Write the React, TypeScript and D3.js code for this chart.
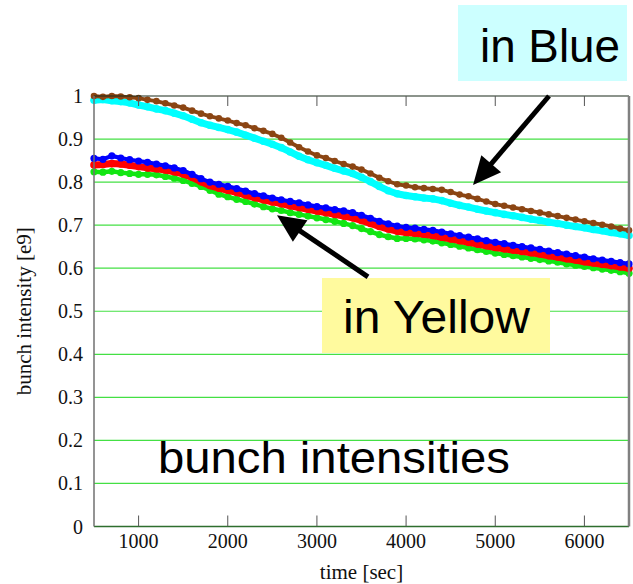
import React from 'react';
import * as d3 from 'd3';

// sample times [sec]
const times: number[] = d3.range(500, 6501, 100);

const brown = [1.000,0.998,1.000,0.999,0.997,0.995,0.991,0.988,0.983,0.978,0.973,0.966,0.959,0.953,0.948,0.943,0.937,0.932,0.925,0.919,0.912,0.903,0.892,0.881,0.871,0.862,0.856,0.849,0.842,0.836,0.829,0.820,0.810,0.802,0.795,0.792,0.788,0.786,0.784,0.782,0.777,0.771,0.767,0.761,0.755,0.749,0.745,0.741,0.737,0.733,0.729,0.725,0.721,0.717,0.713,0.709,0.705,0.701,0.697,0.692,0.688];
const cyan = [0.990,0.992,0.989,0.987,0.984,0.979,0.975,0.970,0.966,0.960,0.954,0.946,0.938,0.932,0.927,0.922,0.916,0.909,0.902,0.895,0.888,0.880,0.870,0.860,0.852,0.845,0.839,0.832,0.826,0.820,0.811,0.801,0.790,0.780,0.773,0.769,0.766,0.763,0.761,0.757,0.751,0.746,0.742,0.737,0.733,0.729,0.725,0.722,0.718,0.714,0.711,0.707,0.704,0.700,0.697,0.694,0.690,0.687,0.683,0.680,0.676];
const magenta = [0.993,0.995,0.992,0.990,0.987,0.982,0.978,0.973,0.969,0.963,0.957,0.949,0.941,0.935,0.930,0.925,0.919,0.912,0.905,0.898,0.891,0.883,0.873,0.863,0.855,0.848,0.842,0.835,0.829,0.823,0.814,0.804,0.793,0.783,0.776,0.773,0.770,0.767,0.765,0.761,0.755,0.750,0.746,0.741,0.737,0.733,0.729,0.726,0.722,0.718,0.715,0.711,0.708,0.704,0.701,0.698,0.694,0.691,0.687,0.684,0.680];
const blue = [0.855,0.853,0.861,0.856,0.852,0.849,0.846,0.842,0.838,0.833,0.827,0.818,0.808,0.800,0.795,0.790,0.785,0.779,0.773,0.768,0.763,0.759,0.755,0.752,0.747,0.743,0.740,0.736,0.733,0.729,0.723,0.716,0.709,0.703,0.698,0.695,0.693,0.690,0.688,0.684,0.680,0.676,0.672,0.668,0.664,0.660,0.657,0.653,0.650,0.647,0.644,0.640,0.636,0.633,0.629,0.626,0.622,0.619,0.616,0.613,0.610];
const red = [0.840,0.841,0.843,0.842,0.839,0.836,0.833,0.831,0.828,0.824,0.819,0.811,0.801,0.792,0.786,0.781,0.776,0.770,0.764,0.759,0.754,0.750,0.745,0.741,0.737,0.733,0.729,0.725,0.721,0.717,0.711,0.704,0.697,0.691,0.686,0.683,0.681,0.679,0.676,0.672,0.668,0.664,0.660,0.656,0.652,0.648,0.645,0.642,0.639,0.636,0.633,0.629,0.626,0.622,0.619,0.615,0.612,0.609,0.606,0.603,0.600];
const green = [0.824,0.823,0.825,0.822,0.820,0.818,0.818,0.817,0.813,0.809,0.804,0.797,0.790,0.781,0.772,0.766,0.760,0.755,0.749,0.743,0.738,0.734,0.729,0.725,0.721,0.717,0.713,0.709,0.704,0.699,0.692,0.685,0.678,0.673,0.669,0.669,0.668,0.666,0.663,0.659,0.655,0.651,0.647,0.643,0.639,0.635,0.632,0.629,0.626,0.623,0.620,0.617,0.614,0.610,0.607,0.604,0.601,0.598,0.595,0.592,0.588];

const xTicks = [1000, 2000, 3000, 4000, 5000, 6000];
const yTicks = [0, 0.1, 0.2, 0.3, 0.4, 0.5, 0.6, 0.7, 0.8, 0.9, 1];
const yTickLabels = ['0', '0.1', '0.2', '0.3', '0.4', '0.5', '0.6', '0.7', '0.8', '0.9', '1'];

// arrows in data units: [fromT, fromV, toT, toV]
const arrowBlue = [5603, 1.0, 4751, 0.793];
const arrowYellow = [3573, 0.58, 2552, 0.723];

const W = 633, H = 584;
const L = 94, R = 629, T = 96, B = 526.5;

const x = d3.scaleLinear().domain([500, 6500]).range([L, R]);
const y = d3.scaleLinear().domain([0, 1]).range([B, T]);

const serif = '"Liberation Serif", "Times New Roman", serif';
const sans = '"Liberation Sans", Arial, sans-serif';

type S = { vals: number[]; color: string; lw: number; r: number; dash?: string; dots?: boolean };
const series: S[] = [
  { vals: green, color: '#12e612', lw: 4.5, r: 3.6 },
  { vals: red, color: '#ff0000', lw: 7, r: 3.8 },
  { vals: blue, color: '#0000ff', lw: 4.2, r: 3.6 },
  { vals: magenta, color: '#ff00ff', lw: 2, r: 0, dash: '4 3', dots: false },
  { vals: cyan, color: '#00ffff', lw: 7, r: 3.8 },
  { vals: brown, color: '#8b4513', lw: 3.8, r: 3.3 },
];

function Arrow({ a }: { a: number[] }) {
  const x1 = x(a[0]), y1 = y(a[1]), x2 = x(a[2]), y2 = y(a[3]);
  const dx = x2 - x1, dy = y2 - y1;
  const len = Math.hypot(dx, dy);
  const ux = dx / len, uy = dy / len;
  const hl = 28, hw = 13;
  const bx = x2 - ux * hl, by = y2 - uy * hl;
  const pts = [
    [x2, y2],
    [bx + -uy * hw, by + ux * hw],
    [bx - -uy * hw, by - ux * hw],
  ];
  return (
    <g>
      <line x1={x1} y1={y1} x2={bx + ux * 2} y2={by + uy * 2} stroke="#000" strokeWidth={5} />
      <polygon points={pts.map(p => p.join(',')).join(' ')} fill="#000" />
    </g>
  );
}

export default function App() {
  const line = d3.line<number>().x((_, i) => x(times[i])).y(v => y(v));
  return (
    <svg width={W} height={H} style={{ position: 'absolute', left: 0, top: 0, background: '#fff' }}>
      <rect x={0} y={0} width={W} height={H} fill="#fff" />
      {/* grid */}
      {yTicks.filter(v => v > 0 && v < 1).map(v => (
        <line key={v} x1={L} x2={R} y1={y(v)} y2={y(v)} stroke="#44e044" strokeWidth={1.2} />
      ))}
      {/* series */}
      {series.map((s, k) => (
        <g key={k}>
          <path d={line(s.vals) || ''} fill="none" stroke={s.color} strokeWidth={s.lw} strokeDasharray={s.dash} strokeLinejoin="round" />
          {s.dots !== false && s.vals.map((v, i) => (
            <circle key={i} cx={x(times[i])} cy={y(v)} r={s.r} fill={s.color} />
          ))}
        </g>
      ))}
      {/* frame */}
      <line x1={L} x2={R} y1={T} y2={T} stroke="#1a2a1a" strokeWidth={1.2} />
      <line x1={L} x2={R} y1={B} y2={B} stroke="#2e6e2e" strokeWidth={1.5} />
      <line x1={L} x2={L} y1={T} y2={B} stroke="#707070" strokeWidth={1.5} />
      <line x1={R} x2={R} y1={T} y2={B} stroke="#808080" strokeWidth={2.5} />
      {xTicks.map(t => (
        <g key={t}>
          <line x1={x(t)} x2={x(t)} y1={B} y2={B - 11} stroke="#555" strokeWidth={1} />
          <line x1={x(t)} x2={x(t)} y1={T} y2={T + 10} stroke="#555" strokeWidth={1} />
          <text x={x(t)} y={548} textAnchor="middle" fontFamily={serif} fontSize={20} fill="#111">{t}</text>
        </g>
      ))}
      {yTicks.map((v, i) => (
        <text key={v} x={83} y={y(v)} dy="0.35em" textAnchor="end" fontFamily={serif} fontSize={20} fill="#111">{yTickLabels[i]}</text>
      ))}
      <text x={(L + R) / 2} y={579} textAnchor="middle" fontFamily={serif} fontSize={21} fill="#111">time [sec]</text>
      <text transform={`translate(31,${(T + B) / 2}) rotate(-90)`} textAnchor="middle" fontFamily={serif} fontSize={21} fill="#111">bunch intensity [e9]</text>
      {/* annotations */}
      <rect x={458} y={5} width={169} height={76} fill="#ccffff" />
      <text x={480} y={62} fontFamily={sans} fontSize={46} fill="#000" textLength={140} lengthAdjust="spacingAndGlyphs">in Blue</text>
      <rect x={322} y={278} width={228} height={75} fill="#fffa9e" />
      <text x={343} y={333} fontFamily={sans} fontSize={46} fill="#000" textLength={187} lengthAdjust="spacingAndGlyphs">in Yellow</text>
      <text x={158} y={473} fontFamily={sans} fontSize={45} fill="#000" textLength={352} lengthAdjust="spacingAndGlyphs">bunch intensities</text>
      <Arrow a={arrowBlue} />
      <Arrow a={arrowYellow} />
    </svg>
  );
}
